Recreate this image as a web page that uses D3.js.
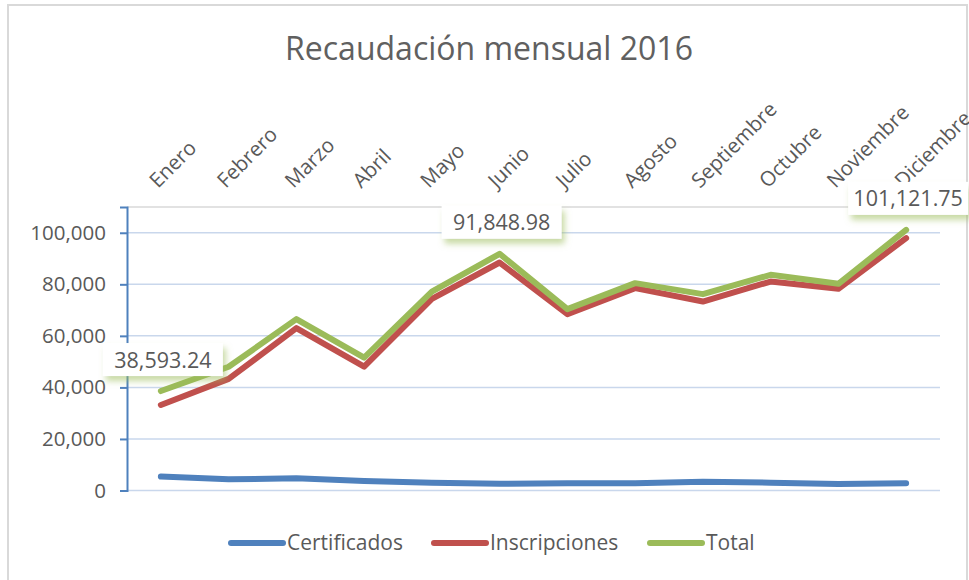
<!DOCTYPE html>
<html>
<head>
<meta charset="utf-8">
<script src="https://cdn.jsdelivr.net/npm/d3@7"></script>
<style>
  body { margin: 0; background: #fff; }
  text { font-family: "Open Sans", sans-serif; fill: #595959; }
</style>
</head>
<body>
<div id="chart"></div>
<script>
// datos
const meses = ["Enero", "Febrero", "Marzo", "Abril", "Mayo", "Junio", "Julio", "Agosto", "Septiembre", "Octubre", "Noviembre", "Diciembre"];
const certificados = [5390, 4350, 4740, 3690, 3030, 2640, 2800, 2800, 3400, 3030, 2520, 2800];
const inscripciones = [33200, 43300, 63000, 48070, 74360, 88460, 68420, 78510, 73310, 81080, 78240, 97930];
const total = [38593.24, 48000, 66480, 51570, 77200, 91848.98, 70360, 80460, 76180, 83680, 80190, 101121.75];
const yTicks = [0, 20000, 40000, 60000, 80000, 100000];
const etiquetas = [0, 5, 11]; // puntos con etiqueta de datos

const series = [
  { name: "Certificados", values: certificados, color: "#4f81bd" },
  { name: "Inscripciones", values: inscripciones, color: "#c0504d" },
  { name: "Total", values: total, color: "#9bbb59" }
];

const width = 969;
const height = 580;

const svg = d3.select("#chart")
  .append("svg")
  .attr("width", width)
  .attr("height", height);

// sombra verde de las etiquetas
const defs = svg.append("defs");
defs.append("filter")
  .attr("id", "sombra")
  .attr("x", "-20%").attr("y", "-30%")
  .attr("width", "140%").attr("height", "180%")
  .append("feDropShadow")
  .attr("dx", 3).attr("dy", 5)
  .attr("stdDeviation", 3)
  .attr("flood-color", "#9bbb59")
  .attr("flood-opacity", 0.55);

// borde del gráfico
svg.append("rect")
  .attr("x", 8).attr("y", 5)
  .attr("width", 959).attr("height", 590)
  .attr("fill", "none")
  .attr("stroke", "#d9d9d9")
  .attr("stroke-width", 2);

// título
svg.append("text")
  .attr("x", 489).attr("y", 60)
  .attr("text-anchor", "middle")
  .style("font-size", "32px")
  .style("fill", "#606060")
  .text("Recaudación mensual 2016");

const x = d3.scalePoint().domain(meses).range([127, 940]).padding(0.5);
const y = d3.scaleLinear().domain([0, 110000]).range([490.5, 207]);

// borde superior del área de trazado
svg.append("line")
  .attr("x1", 127).attr("x2", 940)
  .attr("y1", 207).attr("y2", 207)
  .attr("stroke", "#d9d9d9")
  .attr("stroke-width", 1.5);

// líneas de cuadrícula
svg.selectAll("line.grid")
  .data(yTicks)
  .enter()
  .append("line")
  .attr("class", "grid")
  .attr("x1", 127).attr("x2", 940)
  .attr("y1", d => y(d)).attr("y2", d => y(d))
  .attr("stroke", "#c9d7ec")
  .attr("stroke-width", 1.5);

// eje Y
const yAxis = svg.append("g")
  .attr("transform", "translate(127,0)")
  .call(d3.axisLeft(y).tickValues(yTicks).tickSize(7).tickPadding(14).tickFormat(d3.format(",")));
yAxis.select(".domain").attr("stroke", "#4f81bd").attr("stroke-width", 2);
yAxis.selectAll(".tick line").attr("stroke", "#4f81bd").attr("stroke-width", 2);
yAxis.selectAll(".tick text")
  .style("font-size", "20.5px")
  .style("font-family", "'Open Sans', sans-serif")
  .attr("fill", "#595959");

// etiquetas de meses (arriba, rotadas)
svg.selectAll("text.mes")
  .data(meses)
  .enter()
  .append("text")
  .attr("class", "mes")
  .attr("transform", d => `translate(${x(d) - 3},189) rotate(-45)`)
  .style("font-size", "20.5px")
  .text(d => d);

// líneas
const line = d3.line()
  .x((d, i) => x(meses[i]))
  .y(d => y(d));

svg.selectAll("path.serie")
  .data(series)
  .enter()
  .append("path")
  .attr("class", "serie")
  .attr("d", d => line(d.values))
  .attr("fill", "none")
  .attr("stroke", d => d.color)
  .attr("stroke-width", 6)
  .attr("stroke-linejoin", "round")
  .attr("stroke-linecap", "round");

// etiquetas de datos del total
const fmt = d3.format(",.2f");
const lbl = svg.selectAll("g.lbl")
  .data(etiquetas)
  .enter()
  .append("g")
  .attr("class", "lbl")
  .attr("transform", i => `translate(${x(meses[i]) + 2},${y(total[i]) - 31})`);

lbl.append("rect")
  .attr("x", -60).attr("y", -17)
  .attr("width", 120).attr("height", 33)
  .attr("fill", "#fff")
  .attr("filter", "url(#sombra)");

lbl.append("text")
  .attr("text-anchor", "middle")
  .attr("dy", "0.35em")
  .style("font-size", "21.5px")
  .text(i => fmt(total[i]));

// leyenda
const leyX = [229, 432, 648];
const ley = svg.selectAll("g.ley")
  .data(series)
  .enter()
  .append("g")
  .attr("class", "ley")
  .attr("transform", (d, i) => `translate(${leyX[i]},543)`);

ley.append("line")
  .attr("x1", 2).attr("x2", 54)
  .attr("stroke", d => d.color)
  .attr("stroke-width", 6)
  .attr("stroke-linecap", "round");

ley.append("text")
  .attr("x", 58)
  .attr("dy", "0.35em")
  .style("font-size", "21px")
  .text(d => d.name);
</script>
</body>
</html>
